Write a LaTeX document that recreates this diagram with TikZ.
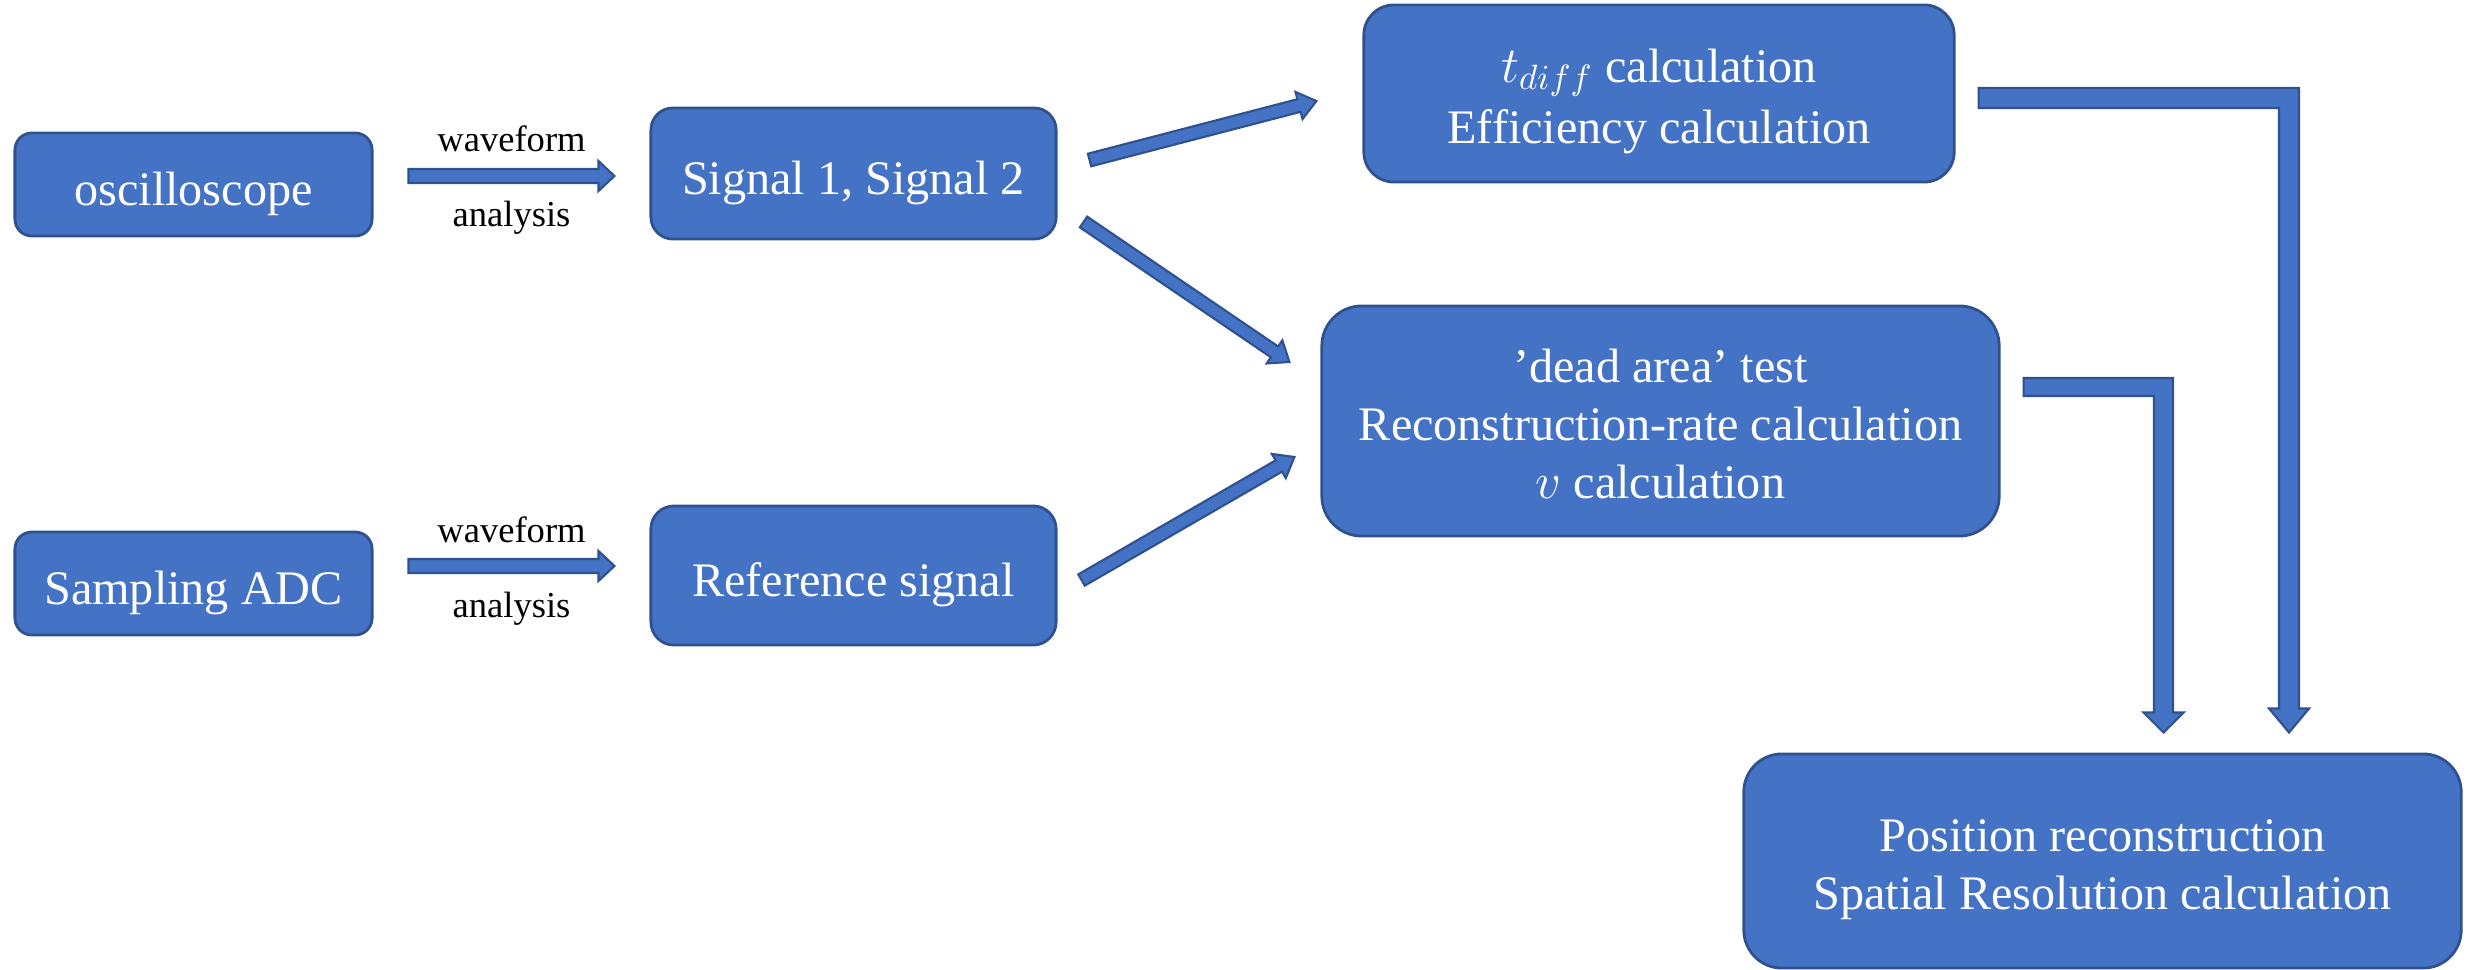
\documentclass[tikz,border=0pt]{standalone}
\usepackage{fontspec}
\setmainfont{Liberation Serif}
\usetikzlibrary{calc}
\definecolor{bfill}{HTML}{4472C4}
\definecolor{bline}{HTML}{2F528F}
\newcommand\topstrut{\rule{0pt}{14pt}}
\tikzset{
  box/.style={draw=bline, fill=bfill, line width=0.8pt, text=white, align=center,
    inner sep=0pt, font=\fontsize{13.7}{16.5}\selectfont,
    execute at begin node={\rule{0pt}{14.8pt}},
    execute at end node={\rule[-2.96pt]{0pt}{0pt}}},
  lbl/.style={font=\fontsize{10.4}{12}\selectfont, anchor=base, inner sep=0pt, text=black},
  barrow/.style={draw=bline, fill=bfill, line width=0.6pt, line join=miter},
}
\newcommand\blockarr[5]{%
  \coordinate (hb) at ($(#2)!#5!(#1)$);
  \draw[barrow] ($(#1)!#3!90:(#2)$) -- ($(hb)!#3!90:(#2)$) -- ($(hb)!#4!90:(#2)$) -- (#2)
    -- ($(hb)!#4!-90:(#2)$) -- ($(hb)!#3!-90:(#2)$) -- ($(#1)!#3!-90:(#2)$) -- cycle;}
\begin{document}
\begin{tikzpicture}[x=0.01cm,y=-0.01cm]
\useasboundingbox (0,0) rectangle (2479,970);
% boxes
\node[box, minimum width=3.57cm, minimum height=1.03cm, rounded corners=0.17cm] (osc) at (193.5,184.5) {oscilloscope};
\node[box, minimum width=4.05cm, minimum height=1.31cm, rounded corners=0.22cm] (sig) at (853.5,173.5) {Signal 1, Signal 2};
\node[box, minimum width=3.57cm, minimum height=1.03cm, rounded corners=0.17cm] (sadc) at (193.5,583.5) {Sampling ADC};
\node[box, minimum width=4.05cm, minimum height=1.39cm, rounded corners=0.23cm] (ref) at (853.5,575.5) {Reference signal};
\node[box, minimum width=5.90cm, minimum height=1.77cm, rounded corners=0.30cm] (tdiff) at (1659,93.5) {\topstrut$t_{diff}$ calculation\\[1pt]Efficiency calculation};
\node[box, minimum width=6.77cm, minimum height=2.30cm, rounded corners=0.40cm] (dead) at (1660.5,421) {\topstrut'dead area' test\\Reconstruction-rate calculation\\$v$ calculation};
\node[box, minimum width=7.17cm, minimum height=2.14cm, rounded corners=0.38cm] (pos) at (2102.5,861) {\topstrut Position reconstruction\\Spatial Resolution calculation};
% straight arrows
\coordinate (a1s) at ($(osc.east)+(35,-8.5)$);
\coordinate (a1e) at ($(sig.west)+(-35,2.5)$);
\blockarr{a1s}{a1e}{0.07cm}{0.15cm}{0.16cm}
\coordinate (a2s) at ($(sadc.east)+(35,-17.5)$);
\coordinate (a2e) at ($(ref.west)+(-35,-9.5)$);
\blockarr{a2s}{a2e}{0.07cm}{0.15cm}{0.16cm}
\node[lbl] (w1) at ($(a1s)!0.5!(a1e)+(0,-24)$) {waveform};
\node[lbl] (an1) at ($(a1s)!0.5!(a1e)+(0,51)$) {analysis};
\node[lbl] (w2) at ($(a2s)!0.5!(a2e)+(0,-24)$) {waveform};
\node[lbl] (an2) at ($(a2s)!0.5!(a2e)+(0,51)$) {analysis};
% diagonal arrows
\coordinate (d1s) at ($(sig.east)+(32,-13.5)$);
\coordinate (d1e) at ($(tdiff.west)+(-46,7.5)$);
\blockarr{d1s}{d1e}{0.065cm}{0.14cm}{0.18cm}
\coordinate (d2s) at ($(sig.east)+(26,48.5)$);
\coordinate (d2e) at ($(dead.west)+(-31,-59)$);
\blockarr{d2s}{d2e}{0.065cm}{0.14cm}{0.18cm}
\coordinate (d3s) at ($(ref.east)+(24,4.5)$);
\coordinate (d3e) at ($(dead.west)+(-26,36)$);
\blockarr{d3s}{d3e}{0.065cm}{0.14cm}{0.18cm}
% elbow arrows
\coordinate (e1s) at ($(tdiff.east)+(23,4.5)$);
\coordinate (e1t) at ($(pos.north)+(186.5,-20)$);
\coordinate (e1c) at (e1s -| e1t);
\coordinate (e1b) at ($(e1t)+(0,-24)$);
\draw[barrow] ($(e1s)+(0,-10)$) -- ($(e1c)+(10,-10)$) -- ($(e1b)+(10,0)$) -- ($(e1b)+(20,0)$)
  -- (e1t) -- ($(e1b)+(-20,0)$) -- ($(e1b)+(-10,0)$) -- ($(e1c)+(-10,10)$) -- ($(e1s)+(0,10)$) -- cycle;
\coordinate (e2s) at ($(dead.east)+(23,-34)$);
\coordinate (e2t) at ($(pos.north)+(61,-20)$);
\coordinate (e2c) at (e2s -| e2t);
\coordinate (e2b) at ($(e2t)+(0,-20)$);
\draw[barrow] ($(e2s)+(0,-9)$) -- ($(e2c)+(9.5,-9)$) -- ($(e2b)+(9.5,0)$) -- ($(e2b)+(20,0)$)
  -- (e2t) -- ($(e2b)+(-20,0)$) -- ($(e2b)+(-9.5,0)$) -- ($(e2c)+(-9.5,9)$) -- ($(e2s)+(0,9)$) -- cycle;
\end{tikzpicture}
\end{document}
